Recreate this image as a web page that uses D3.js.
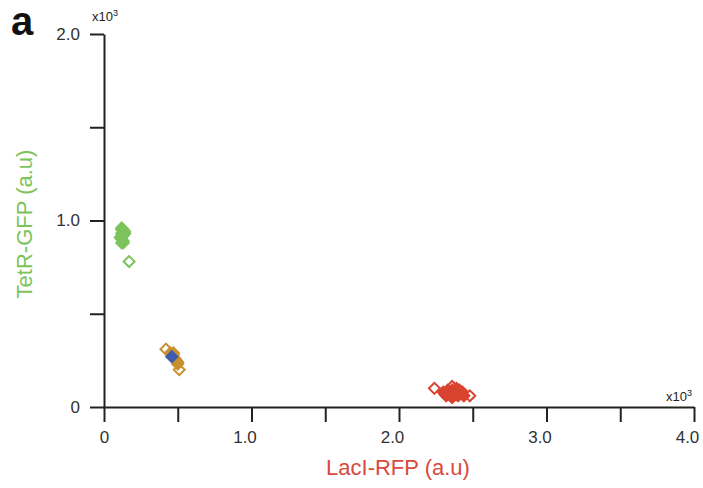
<!DOCTYPE html>
<html>
<head>
<meta charset="utf-8">
<script src="https://cdn.jsdelivr.net/npm/d3@7"></script>
<style>
  body { margin: 0; background: #fff; }
  svg { font-family: "Liberation Sans", Arial, sans-serif; }
</style>
</head>
<body>
<svg width="703" height="488"></svg>
<script>
// values in x10^3 (a.u)
const xTicks = [0, 0.5, 1.0, 1.5, 2.0, 2.5, 3.0, 3.5, 4.0];
const yTicks = [0, 0.5, 1.0, 1.5, 2.0];

// green (TetR high)
const greenFilledX = [0.12, 0.13, 0.12, 0.14, 0.13, 0.11, 0.12, 0.13, 0.14, 0.12, 0.13];
const greenFilledY = [0.96, 0.95, 0.93, 0.94, 0.92, 0.91, 0.90, 0.89, 0.93, 0.95, 0.88];
const greenOpenX = [0.12, 0.17];
const greenOpenY = [0.88, 0.78];

// orange (intermediate)
const orangeFilledX = [0.46, 0.48, 0.50, 0.47, 0.49, 0.45];
const orangeFilledY = [0.27, 0.26, 0.24, 0.28, 0.25, 0.29];
const orangeOpenX = [0.42, 0.47, 0.51, 0.50];
const orangeOpenY = [0.31, 0.29, 0.20, 0.23];

// blue (single cell)
const blueX = [0.46];
const blueY = [0.27];

// red (LacI high)
const redFilledX = [2.30, 2.33, 2.35, 2.38, 2.40, 2.42, 2.32, 2.36, 2.39, 2.44, 2.34, 2.37, 2.41, 2.31, 2.43, 2.36, 2.38];
const redFilledY = [0.08, 0.09, 0.07, 0.08, 0.06, 0.07, 0.06, 0.09, 0.10, 0.06, 0.08, 0.06, 0.09, 0.07, 0.08, 0.05, 0.07];
const redOpenX = [2.24, 2.36, 2.48];
const redOpenY = [0.10, 0.11, 0.06];

const svg = d3.select("svg");
const area = { left: 104, right: 694, top: 34, bottom: 407 };

const scX = d3.scaleLinear().domain([0, 4]).range([area.left, area.right]);
const scY = d3.scaleLinear().domain([0, 2]).range([area.bottom, area.top]);

const fmt = d => d === 0 ? "0" : (d % 1 === 0 ? d.toFixed(1) : "");

// axes
const gx = svg.append("g")
    .attr("transform", `translate(0, ${area.bottom})`)
    .call(d3.axisBottom(scX).tickValues(xTicks).tickFormat(fmt)
        .tickSize(15).tickSizeOuter(0).tickPadding(9));
const gy = svg.append("g")
    .attr("transform", `translate(${area.left}, 0)`)
    .call(d3.axisLeft(scY).tickValues(yTicks).tickFormat(fmt)
        .tickSize(14).tickSizeOuter(0).tickPadding(10));

[gx, gy].forEach(g => {
    g.selectAll("path, line").attr("stroke", "#222").attr("stroke-width", 2);
    g.selectAll("text").attr("fill", "#333").style("font-size", "17px")
        .style("font-family", "Liberation Sans, Arial, sans-serif");
});
// labels sit a little left of their ticks in the original
gx.selectAll("text").attr("dx", d => d === 0 ? 0 : -7);

// x10^3 labels
svg.append("text").attr("x", 92).attr("y", 21)
    .style("font-size", "13px").attr("fill", "#222")
    .html('x10<tspan dy="-5" font-size="9">3</tspan>');
svg.append("text").attr("x", 666).attr("y", 401)
    .style("font-size", "13px").attr("fill", "#222")
    .html('x10<tspan dy="-5" font-size="9">3</tspan>');

// panel label
svg.append("text").attr("x", 11).attr("y", 35)
    .style("font-size", "40px").style("font-weight", "bold").attr("fill", "#111")
    .text("a");

// axis titles
svg.append("text").attr("x", 398).attr("y", 475)
    .attr("text-anchor", "middle").style("font-size", "22px").attr("fill", "#d94a3c")
    .text("LacI-RFP (a.u)");
svg.append("text")
    .attr("transform", `translate(32, 224) rotate(-90)`)
    .attr("text-anchor", "middle").style("font-size", "22px").attr("fill", "#7cc35c")
    .text("TetR-GFP (a.u)");

// diamonds
const diamond = d3.symbol().type(d3.symbolSquare).size(60);

function drawPoints(xs, ys, color, filled) {
    const pts = xs.map((x, i) => ({ x: x, y: ys[i] }));
    svg.append("g").selectAll("path")
        .data(pts)
        .enter()
        .append("path")
        .attr("d", diamond)
        .attr("transform", d => `translate(${scX(d.x)}, ${scY(d.y)}) rotate(45)`)
        .style("fill", filled ? color : "#fff")
        .style("stroke", color)
        .style("stroke-width", 2);
}

drawPoints(greenOpenX, greenOpenY, "#7cc35c", false);
drawPoints(greenFilledX, greenFilledY, "#7cc35c", true);
drawPoints(orangeOpenX, orangeOpenY, "#c8902e", false);
drawPoints(orangeFilledX, orangeFilledY, "#c8902e", true);
drawPoints(redOpenX, redOpenY, "#d9432f", false);
drawPoints(redFilledX, redFilledY, "#d9432f", true);
drawPoints(blueX, blueY, "#3d5cae", true);
</script>
</body>
</html>
